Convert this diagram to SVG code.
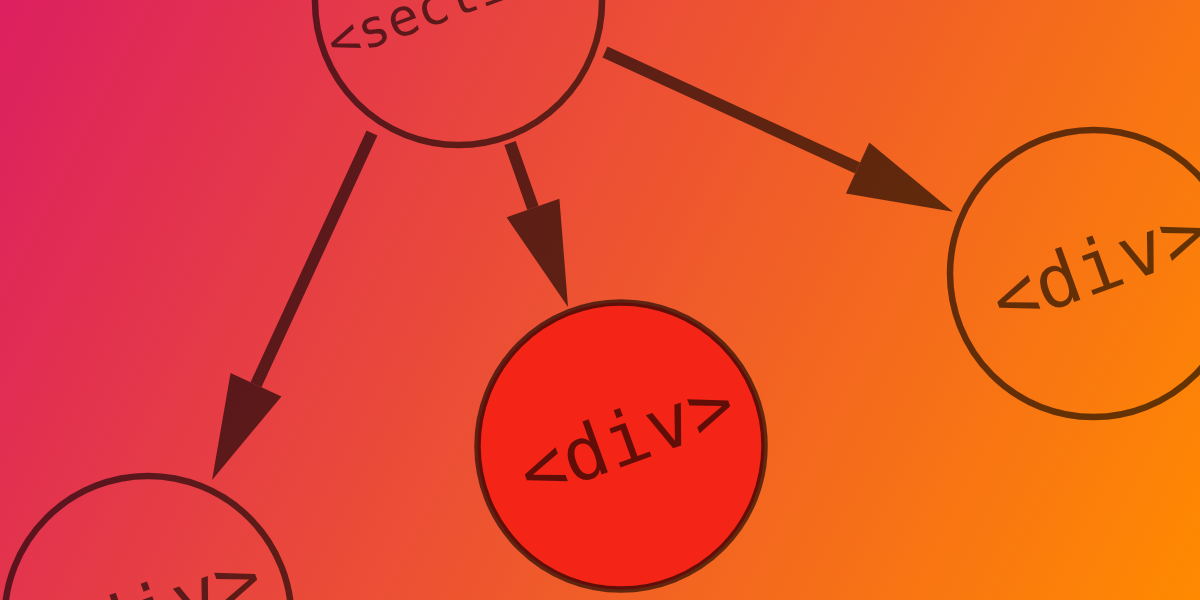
<svg xmlns="http://www.w3.org/2000/svg" width="1200" height="600" viewBox="0 0 1200 600">
  <defs>
    <linearGradient id="bg" gradientUnits="userSpaceOnUse" x1="0" y1="0" x2="1200" y2="600">
      <stop offset="0" stop-color="#dc1f60"/>
      <stop offset="1" stop-color="#ff8a00"/>
    </linearGradient>
    <marker id="head" markerUnits="userSpaceOnUse" markerWidth="120" markerHeight="70" refX="0" refY="0" viewBox="0 -35 120 70" orient="auto" overflow="visible">
      <path d="M0,-28 L105,0 L0,28 Z" fill="#000"/>
    </marker>
    <style>
      .node { fill: none; stroke: #000; stroke-opacity: 0.6; stroke-width: 6.5; }
      .active { fill: #f42416; }
      .label { font-family: "DejaVu Sans Mono", "Liberation Mono", monospace; fill: #000; fill-opacity: 0.6; text-anchor: middle; }
      .edge { stroke: #000; stroke-width: 12; stroke-linecap: butt; fill: none; marker-end: url(#head); }
    </style>
  </defs>
  <rect x="0" y="0" width="1200" height="600" fill="url(#bg)"/>
  <g id="connectors" opacity="0.6">
    <line class="edge" x1="372" y1="133" x2="256" y2="384.7"/>
    <line class="edge" x1="510" y1="143" x2="533" y2="208"/>
    <line class="edge" x1="605" y1="52" x2="857.6" y2="168"/>
  </g>
  <g id="node-section">
    <circle class="node" cx="458.5" cy="1.5" r="143.5"/>
    <text class="label" x="463" y="15.5" font-size="52" transform="rotate(-20 458.5 1.5)">&lt;section&gt;</text>
  </g>
  <g id="node-div-left">
    <circle class="node" cx="148" cy="619.5" r="143.5"/>
    <text class="label" x="156" y="639.5" font-size="74" transform="rotate(-20 148 619.5)">&lt;div&gt;</text>
  </g>
  <g id="node-div-middle">
    <circle class="node active" cx="621" cy="446" r="143.5"/>
    <text class="label" x="629" y="466" font-size="74" transform="rotate(-20 621 446)">&lt;div&gt;</text>
  </g>
  <g id="node-div-right">
    <circle class="node" cx="1093.5" cy="273.5" r="143.5"/>
    <text class="label" x="1101.5" y="293.5" font-size="74" transform="rotate(-20 1093.5 273.5)">&lt;div&gt;</text>
  </g>
</svg>
